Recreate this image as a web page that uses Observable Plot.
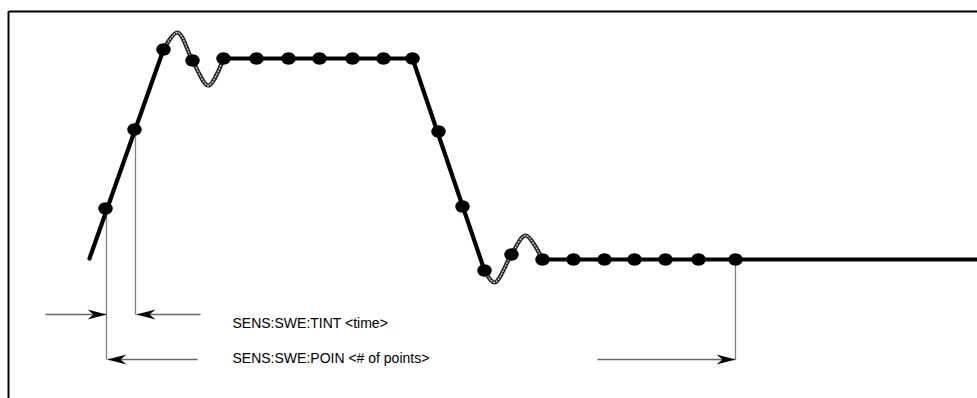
<!DOCTYPE html>
<html>
<head>
<meta charset="utf-8">
<script src="https://cdn.jsdelivr.net/npm/d3@7"></script>
<script src="https://cdn.jsdelivr.net/npm/@observablehq/plot@0.6"></script>
<style>
  html, body { margin: 0; padding: 0; background: #fff; }
  #chart svg { display: block; }
</style>
</head>
<body>
<div id="chart"></div>
<script>
// Time axis (t) and signal level (v) (v grows downward)
const edgeUp      = [{t: 89, v: 258}, {t: 163, v: 49}];
const ringHigh    = [{t: 163, v: 49}, {t: 177, v: 32}, {t: 192, v: 60}, {t: 208, v: 85}, {t: 223, v: 58}];
const settledHigh = [{t: 223, v: 58}, {t: 412, v: 58}];
const edgeDown    = [{t: 412, v: 58}, {t: 484, v: 270}];
const ringLow     = [{t: 484, v: 270}, {t: 494, v: 282}, {t: 511, v: 254}, {t: 525, v: 235}, {t: 542, v: 259}];
const settledLow  = [{t: 542, v: 259}, {t: 977, v: 259}];

const sampleT = [105, 134, 163, 192, 223, 256, 288, 319, 352, 383, 412, 438, 462, 484, 511, 542, 573, 604, 634, 665, 698, 735];
const sampleV = [208, 129, 49, 60, 58, 58, 58, 58, 58, 58, 58, 131, 206, 270, 254, 259, 259, 259, 259, 259, 259, 259];

// Frame
const frameLines = [
  {t1: 8, v1: 11, t2: 8, v2: 398},
  {t1: 8, v1: 11, t2: 977, v2: 11}
];

// Dimension leaders
const leaders = [
  {t1: 106, v1: 208, t2: 106, v2: 359},
  {t1: 135, v1: 129, t2: 135, v2: 314},
  {t1: 735, v1: 259, t2: 735, v2: 359}
];
const arrows = [
  {from: 45,  to: 106, v: 314},
  {from: 200, to: 136, v: 314},
  {from: 197, to: 107, v: 359},
  {from: 597, to: 735, v: 359}
];
const labels = [
  {t: 232, v: 323, text: "SENS:SWE:TINT <time>"},
  {t: 232, v: 358, text: "SENS:SWE:POIN <# of points>"}
];

const samples = sampleT.map((t, i) => ({t, v: sampleV[i]}));

const arrowHead = {
  draw(context) {
    context.moveTo(0, 0);
    context.lineTo(-19, -5);
    context.lineTo(-13, 0);
    context.lineTo(-19, 5);
    context.closePath();
  }
};

const blob = {
  draw(context) {
    const n = 32, rx = 7.2, ry = 6.2;
    for (let i = 0; i < n; i++) {
      const a = (2 * Math.PI * i) / n;
      const px = rx * Math.cos(a), py = ry * Math.sin(a);
      if (i === 0) context.moveTo(px, py); else context.lineTo(px, py);
    }
    context.closePath();
  }
};

const heads = arrows.map(a => ({t: a.to, v: a.v, rot: a.to > a.from ? 0 : 180}));

const chart = Plot.plot({
  width: 977,
  height: 398,
  margin: 0,
  x: {domain: [0, 977], range: [0, 977], axis: null},
  y: {domain: [0, 398], range: [0, 398], axis: null},
  style: {background: "#fff", fontFamily: "'Liberation Sans', Arial, sans-serif"},
  marks: [
    Plot.link(frameLines, {x1: "t1", y1: "v1", x2: "t2", y2: "v2", stroke: "#000", strokeWidth: 2}),
    Plot.link(leaders, {x1: "t1", y1: "v1", x2: "t2", y2: "v2", stroke: "#808080", strokeWidth: 1.3}),
    Plot.link(arrows, {x1: "from", y1: "v", x2: "to", y2: "v", stroke: "#6a6a6a", strokeWidth: 1.3}),
    Plot.dot(heads, {x: "t", y: "v", symbol: arrowHead, rotate: "rot", fill: "#000", stroke: "none"}),
    Plot.line(edgeUp, {x: "t", y: "v", stroke: "#000", strokeWidth: 4.2}),
    Plot.line(settledHigh, {x: "t", y: "v", stroke: "#000", strokeWidth: 4.2}),
    Plot.line(edgeDown, {x: "t", y: "v", stroke: "#000", strokeWidth: 4.2}),
    Plot.line(settledLow, {x: "t", y: "v", stroke: "#000", strokeWidth: 4.2}),
    Plot.line(ringHigh, {x: "t", y: "v", curve: "catmull-rom", stroke: "#222", strokeWidth: 4.2}),
    Plot.line(ringHigh, {x: "t", y: "v", curve: "catmull-rom", stroke: "#d0d0d0", strokeWidth: 1.3, strokeDasharray: "1 2"}),
    Plot.line(ringLow, {x: "t", y: "v", curve: "catmull-rom", stroke: "#222", strokeWidth: 4.2}),
    Plot.line(ringLow, {x: "t", y: "v", curve: "catmull-rom", stroke: "#d0d0d0", strokeWidth: 1.3, strokeDasharray: "1 2"}),
    Plot.dot(samples, {x: "t", y: "v", symbol: blob, fill: "#000", stroke: "none"}),
    Plot.text(labels, {x: "t", y: "v", text: "text", textAnchor: "start", fontSize: 14, fill: "#000"})
  ]
});
document.getElementById("chart").appendChild(chart);
</script>
</body>
</html>
